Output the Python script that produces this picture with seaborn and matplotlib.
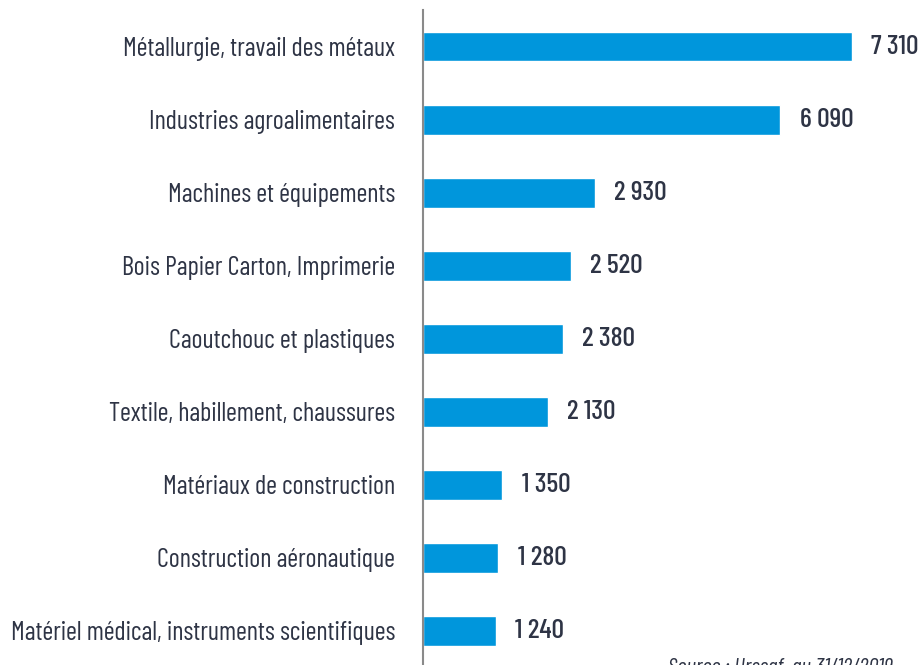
import matplotlib
matplotlib.use("Agg")
import matplotlib.pyplot as plt
import seaborn as sns
import pandas as pd
from matplotlib import font_manager

categories = [
    "Métallurgie, travail des métaux",
    "Industries agroalimentaires",
    "Machines et équipements",
    "Bois Papier Carton, Imprimerie",
    "Caoutchouc et plastiques",
    "Textile, habillement, chaussures",
    "Matériaux de construction",
    "Construction aéronautique",
    "Matériel médical, instruments scientifiques",
]
values = [7310, 6090, 2930, 2520, 2380, 2130, 1350, 1280, 1240]
value_labels = ["7\u2009310", "6\u2009090", "2\u2009930", "2\u2009520", "2\u2009380",
                "2\u2009130", "1\u2009350", "1\u2009280", "1\u2009240"]
source_text = "Source : Urssaf, au 31/12/2019"

sns.set_theme(style="white")
names = {f.name for f in font_manager.fontManager.ttflist}
fam = "DejaVu Sans"
for cand in ["Barlow Condensed", "Sofia Sans Condensed", "Roboto Condensed"]:
    if cand in names:
        fam = cand
        break
plt.rcParams["font.family"] = [fam, "DejaVu Sans"]

bar_color = "#0096dc"
text_color = "#2e3445"

df = pd.DataFrame({"cat": categories, "val": values})

fig = plt.figure(figsize=(9.24, 6.65), dpi=100)
ax = fig.add_axes([423 / 924, 0.0, 1 - 423 / 924, 1 - 10 / 665])
sns.barplot(data=df, y="cat", x="val", orient="h", color=bar_color,
            saturation=1, width=0.41, ax=ax)
ax.set_xlim(0, 8537)
ax.set_ylim(8.47, -0.5)
ax.set_xlabel("")
ax.set_ylabel("")
ax.set_xticks([])
for s in ["top", "right", "bottom"]:
    ax.spines[s].set_visible(False)
ax.spines["left"].set_color("#8a8a8a")
ax.spines["left"].set_linewidth(1.5)
ax.tick_params(axis="y", length=0, pad=20, labelsize=18.9, labelcolor=text_color)
ax.set_yticks(range(len(categories)), categories)
ax.set_yticks([-0.5], minor=True)
ax.tick_params(axis="y", which="minor", length=7, width=1.5, color="#8a8a8a")

ax.bar_label(ax.containers[0], labels=value_labels, padding=14,
             fontsize=20, fontweight="medium", color=text_color)

fig.text(668 / 924, 1 - 658 / 665, source_text, fontsize=16.5, style="italic",
         color=text_color, va="top", ha="left")

fig.savefig("out.png", dpi=100)
